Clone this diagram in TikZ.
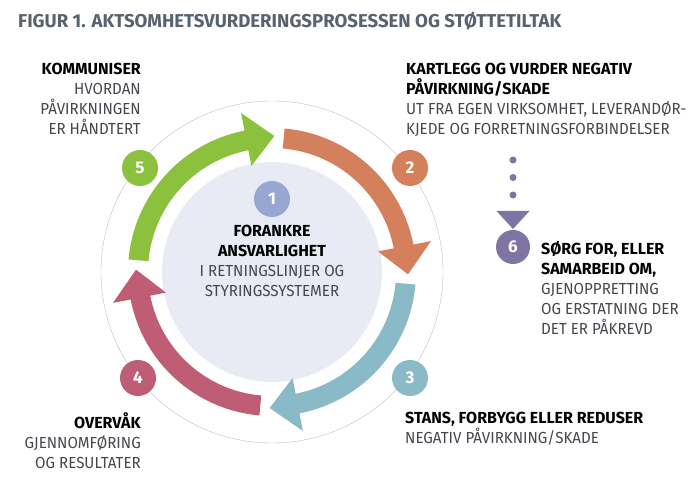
\documentclass[tikz,border=0pt]{standalone}
\usepackage{fontspec}
\setmainfont{Fira Sans}[FakeStretch=0.945]
\newfontfamily\fetfont{Fira Sans}
\newcommand\fet[1]{{\color{black}\fetfont\bfseries #1}}
\usepackage{tikz}
\usetikzlibrary{arrows}

\definecolor{pilOrange}{RGB}{212,128,92}
\definecolor{pilTeal}{RGB}{138,186,200}
\definecolor{pilRod}{RGB}{190,93,115}
\definecolor{pilGronn}{RGB}{140,193,62}
\definecolor{merke1}{RGB}{152,166,212}
\definecolor{merke6}{RGB}{127,117,162}
\definecolor{midtflate}{RGB}{233,235,244}
\definecolor{ring}{RGB}{190,190,190}
\definecolor{tittelfarge}{RGB}{87,99,110}
\definecolor{brodtekst}{RGB}{70,70,78}

\begin{document}
\begin{tikzpicture}[x=1pt, y=1pt,
		every node/.style={inner sep=0pt, text=brodtekst, font=\fontsize{16}{20}\selectfont},
		merke/.style={circle, minimum size=36pt, text=white, font=\fontsize{17}{17}\selectfont\fetfont\bfseries}]
	\useasboundingbox (0,0) rectangle (700,487);
	\node [anchor=west, text=tittelfarge, font=\fontsize{18.6}{20}\selectfont\fetfont\bfseries] (tittel) at (18,466) {FIGUR 1. AKTSOMHETSVURDERINGSPROSESSEN OG STØTTETILTAK};
	\coordinate (C) at (272,215);
	\draw [ring, thin] (C) circle (171);
	\fill [midtflate] (C) circle (110);
	\foreach \col/\b in {pilOrange/0, pilTeal/-90, pilRod/-180, pilGronn/90}
	\fill [\col, shift={(C)}] (\b+85:144) arc [start angle=\b+85, end angle=\b+11, radius=144] -- (\b+11:162) -- (\b-1:136) -- (\b+11:108) -- (\b+11:124) arc [start angle=\b+11, end angle=\b+85, radius=124] -- cycle;
	\node [merke, fill=pilGronn] (m5) at (140,319) {5};
	\node [merke, fill=pilOrange] (m2) at (410,319) {2};
	\node [merke, fill=pilTeal] (m3) at (410,109) {3};
	\node [merke, fill=pilRod] (m4) at (138,109) {4};
	\node [merke, fill=merke1] (m1) at (272,288) {1};
	\node [merke, fill=merke6, minimum size=34pt] (m6) at (513,240) {6};
	\node [anchor=north, align=center] (forankre) at (272,262) {\fet{FORANKRE}\\\fet{ANSVARLIGHET}\\I RETNINGSLINJER OG\\STYRINGSSYSTEMER};
	\node [anchor=north east, align=right] (kommuniser) at (141,424) {\fet{KOMMUNISER}\\HVORDAN\\PÅVIRKNINGEN\\ER HÅNDTERT};
	\node [anchor=north west, align=left] (kartlegg) at (406,424) {\fet{KARTLEGG OG VURDER NEGATIV}\\\fet{PÅVIRKNING/SKADE}\\UT FRA EGEN VIRKSOMHET, LEVERANDØR-\\KJEDE OG FORRETNINGSFORBINDELSER};
	\node [anchor=north west, align=left] (sorg) at (541,246) {\fet{SØRG FOR, ELLER}\\\fet{SAMARBEID OM,}\\GJENOPPRETTING\\OG ERSTATNING DER\\DET ER PÅKREVD};
	\node [anchor=north east, align=right] (overvak) at (141,75) {\fet{OVERVÅK}\\GJENNOMFØRING\\OG RESULTATER};
	\node [anchor=north west, align=left] (stans) at (405,75) {\fet{STANS, FORBYGG ELLER REDUSER}\\NEGATIV PÅVIRKNING/SKADE};
	% prikkene ned mot punkt 6
	\coordinate (prikk) at (513,327);
	\coordinate (pil6) at (513,276);
	\draw [merke6, line width=7pt, line cap=round, dash pattern=on 0pt off 17.5pt] (prikk) -- (513,292);
	\fill [merke6] (pil6) ++(-16.5,0) -- ++(33,0) -- (513,258) -- cycle;
\end{tikzpicture}
\end{document}
